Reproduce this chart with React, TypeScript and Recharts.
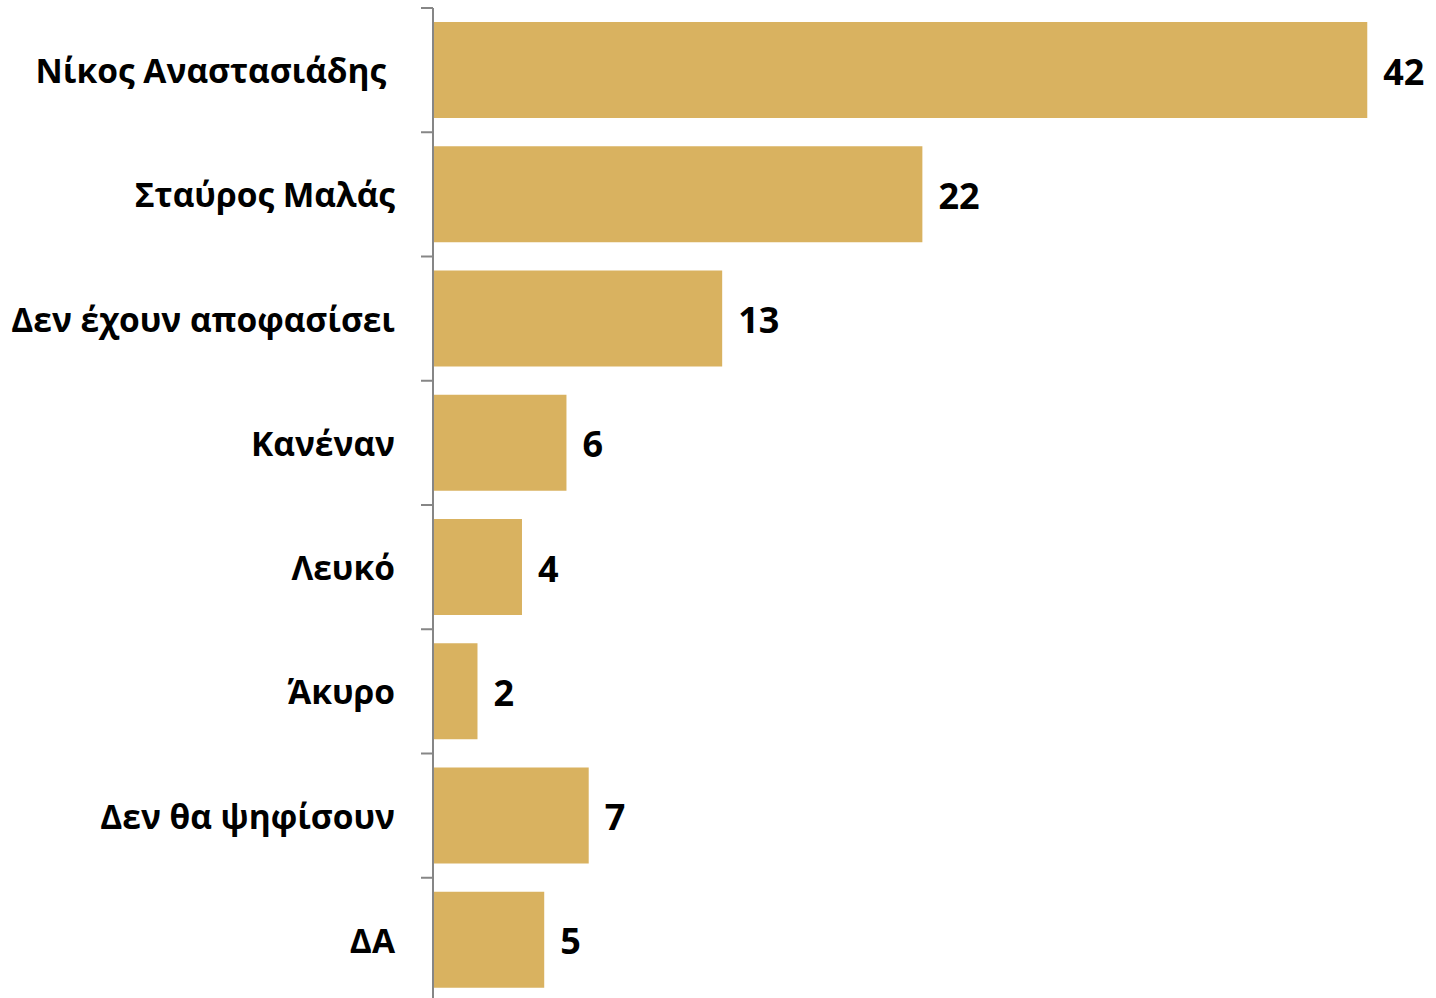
import { BarChart, Bar, XAxis, YAxis, LabelList } from 'recharts';

const categories = [
  'Νίκος Αναστασιάδης\u00A0',
  'Σταύρος Μαλάς',
  'Δεν έχουν αποφασίσει',
  'Κανέναν',
  'Λευκό',
  'Άκυρο',
  'Δεν θα ψηφίσουν',
  'ΔΑ',
];
const values = [42, 22, 13, 6, 4, 2, 7, 5];

const data = categories.map((name, i) => ({ name, value: values[i] }));

const FONT = "'Open Sans', sans-serif";
const AXIS_GRAY = '#868686';
const BAR_GOLD = '#D9B260';

// label at band centre, tick mark at the band's upper boundary (Excel style)
function CategoryTick(props: any) {
  const { x, y, payload } = props;
  const half = payload?.offset ?? 0;
  return (
    <g>
      <line x1={x + 26} x2={x + 38} y1={y - half} y2={y - half} stroke={AXIS_GRAY} strokeWidth={2} />
      <text
        x={x}
        y={y}
        textAnchor="end"
        dominantBaseline="central"
        fontFamily={FONT}
        fontWeight={700}
        fontSize={33.5}
        fill="#000"
      >
        {payload.value}
      </text>
    </g>
  );
}

export default function App() {
  return (
    <div style={{ position: 'fixed', left: 0, top: 0, width: 1436, height: 998, overflow: 'hidden', background: '#fff' }}>
      <BarChart
        width={1436}
        height={1002}
        data={data}
        layout="vertical"
        margin={{ top: 8, right: 2, bottom: 0, left: 0 }}
        barCategoryGap="11.2%"
      >
        <XAxis type="number" domain={[0, 45]} hide />
        <YAxis
          type="category"
          dataKey="name"
          width={433}
          tickLine={false}
          tickSize={12}
          tickMargin={26}
          axisLine={{ stroke: AXIS_GRAY, strokeWidth: 2 }}
          tick={<CategoryTick />}
          interval={0}
        />
        <Bar dataKey="value" fill={BAR_GOLD} isAnimationActive={false}>
          <LabelList
            dataKey="value"
            position="right"
            offset={16}
            dy={2}
            fill="#000"
            fontFamily={FONT}
            fontWeight={700}
            fontSize={36}
          />
        </Bar>
      </BarChart>
    </div>
  );
}
